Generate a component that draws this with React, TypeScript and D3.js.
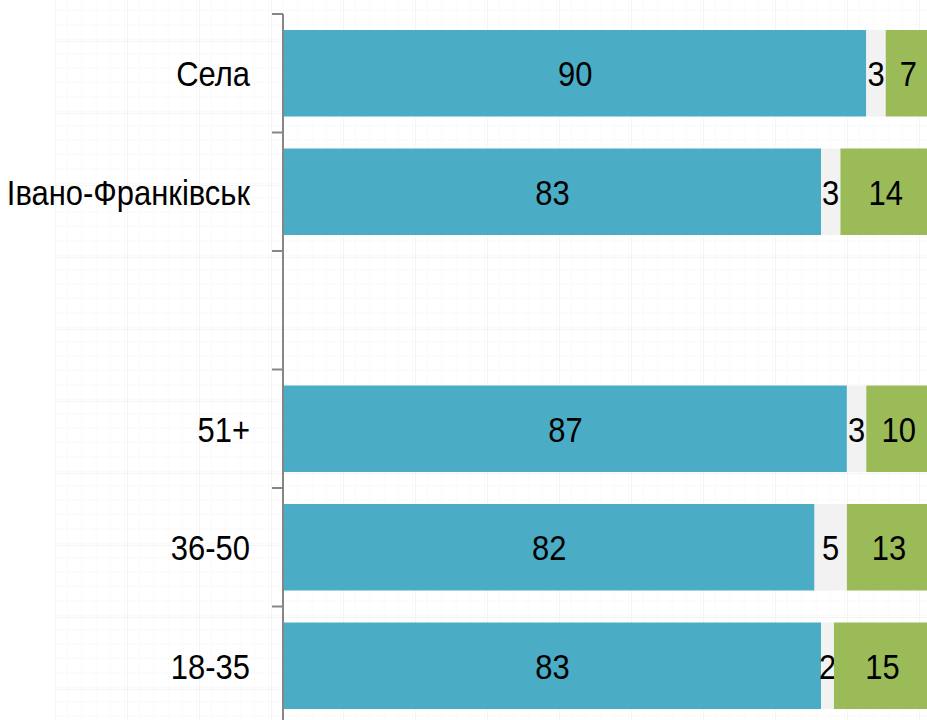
import { useEffect, useRef } from 'react';
import * as d3 from 'd3';

const categories = ['Села', 'Івано-Франківськ', '', '51+', '36-50', '18-35'];
const yesValues = [90, 83, null, 87, 82, 83];
const hardValues = [3, 3, null, 3, 5, 2];
const noValues = [7, 14, null, 10, 13, 15];

const seriesColors = ['#4BACC6', '#F2F2F2', '#9BBB59'];

const W = 927;
const H = 720;
// Arial Narrow look: Liberation Sans squeezed horizontally
const NARROW = 0.86;

export default function App() {
  const svgRef = useRef<SVGSVGElement | null>(null);

  useEffect(() => {
    if (!svgRef.current) return;
    const svg = d3.select(svgRef.current);
    svg.selectAll('*').remove();

    const margin = { top: 14, left: 284 };
    const fontFamily = '"Liberation Sans", Arial, sans-serif';

    // graph-paper background
    const defs = svg.append('defs');
    const minor = defs.append('pattern')
      .attr('id', 'minorGrid')
      .attr('width', 14.4)
      .attr('height', 14.4)
      .attr('patternUnits', 'userSpaceOnUse')
      .attr('x', 55)
      .attr('y', 41);
    minor.append('path')
      .attr('d', 'M 14.4 0 L 0 0 0 14.4')
      .attr('fill', 'none')
      .attr('stroke', '#f5f5f5')
      .attr('stroke-width', 1);
    const major = defs.append('pattern')
      .attr('id', 'majorGrid')
      .attr('width', 72)
      .attr('height', 72)
      .attr('patternUnits', 'userSpaceOnUse')
      .attr('x', 55)
      .attr('y', 41);
    major.append('rect').attr('width', 72).attr('height', 72).attr('fill', 'url(#minorGrid)');
    major.append('path')
      .attr('d', 'M 72 0 L 0 0 0 72')
      .attr('fill', 'none')
      .attr('stroke', '#ebebeb')
      .attr('stroke-width', 1);

    svg.append('rect').attr('width', W).attr('height', H).attr('fill', '#ffffff');
    svg.append('rect')
      .attr('x', 55)
      .attr('y', 0)
      .attr('width', W - 55)
      .attr('height', H)
      .attr('fill', 'url(#majorGrid)');

    const y = d3.scaleBand<number>()
      .domain(d3.range(categories.length))
      .range([margin.top, margin.top + 118.5 * categories.length])
      .paddingInner(0.27)
      .paddingOuter(0.135);

    const x = d3.scaleLinear().domain([0, 100]).range([margin.left, margin.left + 647]);

    const rows = categories.map((c, i) => ({
      cat: c,
      i,
      vals: [yesValues[i], hardValues[i], noValues[i]],
    }));

    const narrowText = (parent: any, tx: number, ty: number, anchor: string, txt: string) => {
      parent.append('text')
        .attr('transform', `translate(${tx},${ty}) scale(${NARROW},1)`)
        .attr('dy', '0.36em')
        .attr('text-anchor', anchor)
        .style('font-family', fontFamily)
        .style('font-size', '36px')
        .attr('fill', '#000')
        .text(txt);
    };

    const g = svg.append('g');

    rows.forEach(row => {
      if (row.vals[0] == null) return;
      let acc = 0;
      row.vals.forEach((v, k) => {
        const val = v as number;
        const x0 = x(acc);
        const x1 = x(acc + val);
        g.append('rect')
          .attr('x', x0)
          .attr('y', y(row.i)!)
          .attr('width', x1 - x0)
          .attr('height', y.bandwidth())
          .attr('fill', seriesColors[k]);
        narrowText(g, (x0 + x1) / 2, y(row.i)! + y.bandwidth() / 2, 'middle', String(val));
        acc += val;
      });
    });

    // axis
    const axisX = 283;
    const step = y.step();
    const top = margin.top;
    svg.append('line')
      .attr('x1', axisX).attr('x2', axisX)
      .attr('y1', top).attr('y2', H)
      .attr('stroke', '#868686')
      .attr('stroke-width', 2);
    d3.range(categories.length + 1).forEach(k => {
      svg.append('line')
        .attr('x1', axisX - 11).attr('x2', axisX)
        .attr('y1', top + k * step).attr('y2', top + k * step)
        .attr('stroke', '#868686')
        .attr('stroke-width', 2);
    });

    const labels = svg.append('g');
    rows.forEach(row => {
      if (!row.cat) return;
      narrowText(labels, 250, y(row.i)! + y.bandwidth() / 2, 'end', row.cat);
    });
  }, []);

  return (
    <svg
      ref={svgRef}
      width={W}
      height={H}
      style={{ position: 'absolute', left: 0, top: 0, display: 'block' }}
    />
  );
}
